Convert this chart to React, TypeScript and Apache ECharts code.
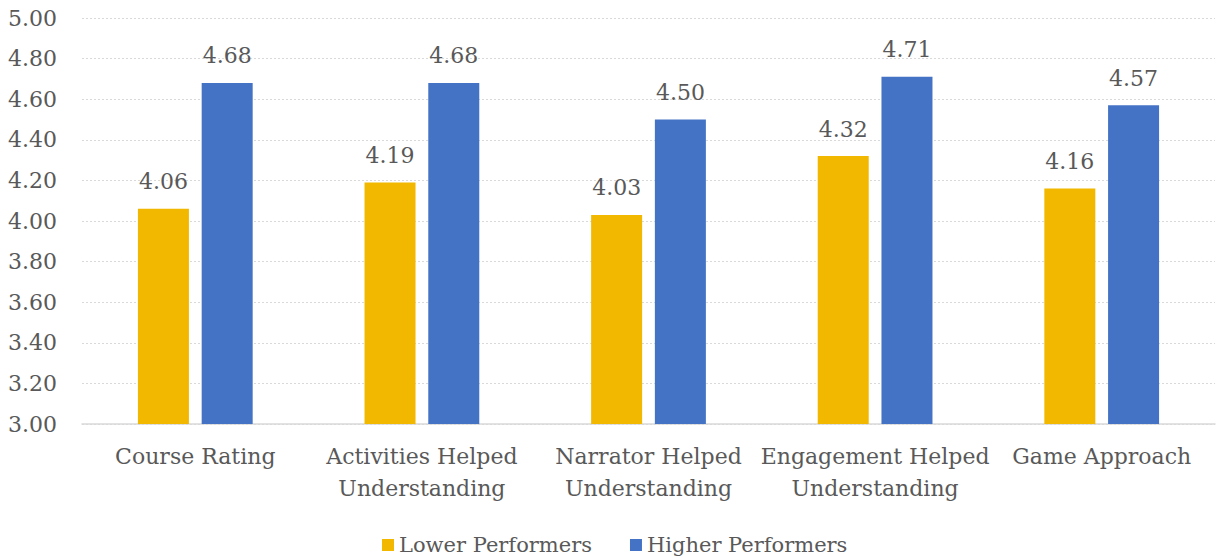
import React, { useEffect, useRef } from "react";
import * as echarts from "echarts";

const categories = [
  "Course Rating",
  "Activities Helped\nUnderstanding",
  "Narrator Helped\nUnderstanding",
  "Engagement Helped\nUnderstanding",
  "Game Approach",
];
const seriesNames = ["Lower Performers", "Higher Performers"];
const lowerValues = [4.06, 4.19, 4.03, 4.32, 4.16];
const higherValues = [4.68, 4.68, 4.5, 4.71, 4.57];
const yMin = 3;
const yMax = 5;
const yInterval = 0.2;

const FONT = "DejaVu Serif";
const TEXT = "#595959";

export default function App() {
  const ref = useRef<HTMLDivElement>(null);
  useEffect(() => {
    if (!ref.current) return;
    const chart = echarts.init(ref.current, undefined, { renderer: "svg" });
    const label = {
      show: true,
      position: "top",
      distance: 16,
      color: TEXT,
      fontFamily: FONT,
      fontSize: 22,
      formatter: (p: any) => Number(p.value).toFixed(2),
    };
    chart.setOption({
      animation: false,
      textStyle: { fontFamily: FONT },
      grid: { left: 82, right: 1, top: 18, bottom: 134, containLabel: false },
      legend: {
        top: 534,
        left: 382,
        padding: 0,
        itemWidth: 12,
        itemHeight: 12,
        itemGap: 38,
        icon: "rect",
        textStyle: { color: TEXT, fontFamily: FONT, fontSize: 21, lineHeight: 22 },
        data: seriesNames,
      },
      xAxis: {
        type: "category",
        data: categories,
        axisTick: { show: false },
        axisLine: { lineStyle: { color: "#D9D9D9", width: 1.5 } },
        axisLabel: {
          color: TEXT,
          fontFamily: FONT,
          fontSize: 22,
          lineHeight: 32,
          margin: 16,
          interval: 0,
        },
      },
      yAxis: {
        type: "value",
        min: yMin,
        max: yMax,
        interval: yInterval,
        axisLine: { show: false },
        axisTick: { show: false },
        splitLine: { lineStyle: { color: "#D9D9D9", type: [2, 2], width: 1 } },
        axisLabel: {
          color: TEXT,
          fontFamily: FONT,
          fontSize: 22,
          margin: 25,
          formatter: (v: number) => v.toFixed(2),
        },
      },
      series: [
        {
          name: seriesNames[0],
          type: "bar",
          data: lowerValues,
          barWidth: 51,
          barGap: "25%",
          itemStyle: { color: "#F2B800" },
          label,
        },
        {
          name: seriesNames[1],
          type: "bar",
          data: higherValues,
          barWidth: 51,
          barGap: "25%",
          itemStyle: { color: "#4472C4" },
          label,
        },
      ],
    });
    return () => chart.dispose();
  }, []);
  return (
    <div
      ref={ref}
      style={{ position: "absolute", left: 0, top: 0, width: 1216, height: 558, background: "#fff" }}
    />
  );
}
